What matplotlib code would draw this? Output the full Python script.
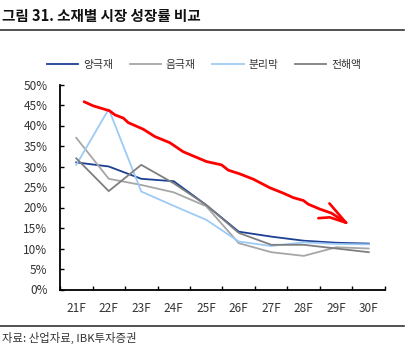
import matplotlib
matplotlib.use("Agg")
import matplotlib.pyplot as plt
from matplotlib.lines import Line2D
from matplotlib.ticker import FixedLocator, FuncFormatter

plt.rcParams['font.family'] = ['Noto Sans CJK KR', 'DejaVu Sans']

# ---- data ----
categories = ['21F', '22F', '23F', '24F', '25F', '26F', '27F', '28F', '29F', '30F']
series_names = ['양극재', '음극재', '분리막', '전해액']
cathode = [31.0, 30.0, 27.0, 26.4, 20.6, 14.1, 12.9, 11.9, 11.4, 11.2]
anode = [37.0, 27.0, 25.5, 23.7, 20.3, 11.3, 9.1, 8.2, 10.3, 10.0]
separator = [30.4, 44.0, 23.9, 20.4, 17.0, 11.7, 10.6, 11.5, 11.1, 11.0]
electrolyte = [32.0, 24.0, 30.4, 25.9, 20.6, 13.8, 10.9, 10.9, 10.0, 9.1]
yticks = [0, 5, 10, 15, 20, 25, 30, 35, 40, 45, 50]

# hand-drawn red trend annotation (category index, value)
red_x = [0.24, 0.52, 1.02, 1.19, 1.45, 1.60, 2.06, 2.42, 2.88, 3.29, 4.01, 4.47,
         4.68, 5.03, 5.45, 5.96, 6.37, 6.68, 6.99, 7.14, 7.50, 7.86, 8.30]
red_y = [45.8, 44.8, 43.6, 42.6, 41.8, 40.7, 39.1, 37.3, 35.8, 33.6, 31.2, 30.4,
         29.1, 28.2, 26.9, 24.8, 23.5, 22.4, 21.7, 20.8, 19.6, 18.6, 16.3]
arrow_up_x = [7.79, 8.30]
arrow_up_y = [21.0, 16.3]
arrow_lo_x = [7.45, 7.80, 8.30]
arrow_lo_y = [17.4, 17.6, 16.3]

colors = ['#1C3F94', '#A6A6A6', '#9DCBF5', '#7F7F7F']
values = [cathode, anode, separator, electrolyte]

W, H = 406, 351
fig = plt.figure(figsize=(W / 100, H / 100), dpi=100)

ax = fig.add_axes([60 / W, (H - 289.5) / H, (385 - 60) / W, (289.5 - 84.5) / H])
xs = list(range(len(categories)))
for name, vals, c in zip(series_names, values, colors):
    ax.plot(xs, vals, color=c, lw=1.3, label=name, solid_joinstyle='miter')

ax.plot(red_x, red_y, color='#FF0000', lw=2.0, solid_capstyle='round', zorder=5)
ax.plot(arrow_up_x, arrow_up_y, color='#FF0000', lw=1.9, solid_capstyle='round', zorder=5)
ax.plot(arrow_lo_x, arrow_lo_y, color='#FF0000', lw=1.9, solid_capstyle='round', zorder=5)

ax.set_xlim(-0.5, len(categories) - 0.5)
ax.set_ylim(0, 50)
ax.set_xticks(xs)
ax.set_xticklabels(categories)
ax.xaxis.set_minor_locator(FixedLocator([i - 0.5 for i in range(len(categories) + 1)]))
ax.tick_params(axis='x', which='major', length=0, pad=9, labelsize=8.5, labelcolor='#333333')
ax.tick_params(axis='x', which='minor', direction='in', length=3, width=1, color='black')
ax.set_yticks(yticks)
ax.yaxis.set_major_formatter(FuncFormatter(lambda v, p: f'{int(v)}%'))
ax.tick_params(axis='y', direction='in', length=3, width=1, pad=9, labelsize=8.5, labelcolor='#333333')
for s in ['top', 'right']:
    ax.spines[s].set_visible(False)
for s in ['left', 'bottom']:
    ax.spines[s].set_linewidth(1.3)
    ax.spines[s].set_color('black')

handles = [Line2D([0], [0], color=c, lw=1.3) for c in colors]
fig.legend(handles, series_names, loc='center', bbox_to_anchor=(204 / W, (H - 65) / H),
           ncol=4, frameon=False, fontsize=7.8, handlelength=2.9, handletextpad=0.45,
           columnspacing=1.5, labelcolor='#333333', borderpad=0, borderaxespad=0)

fig.text(2 / W, (H - 16) / H, '그림 31. 소재별 시장 성장률 비교', fontsize=10.5,
         fontweight='bold', va='center', ha='left', color='#111111')
fig.add_artist(Line2D([0, 404 / W], [(H - 30) / H] * 2, color='#333333', lw=1.2))
fig.add_artist(Line2D([0, 404 / W], [(H - 326) / H] * 2, color='#333333', lw=1.2))
fig.text(2 / W, (H - 338) / H, '자료: 산업자료, IBK투자증권', fontsize=8.2,
         va='center', ha='left', color='#333333')

fig.savefig('out.png', dpi=100)
